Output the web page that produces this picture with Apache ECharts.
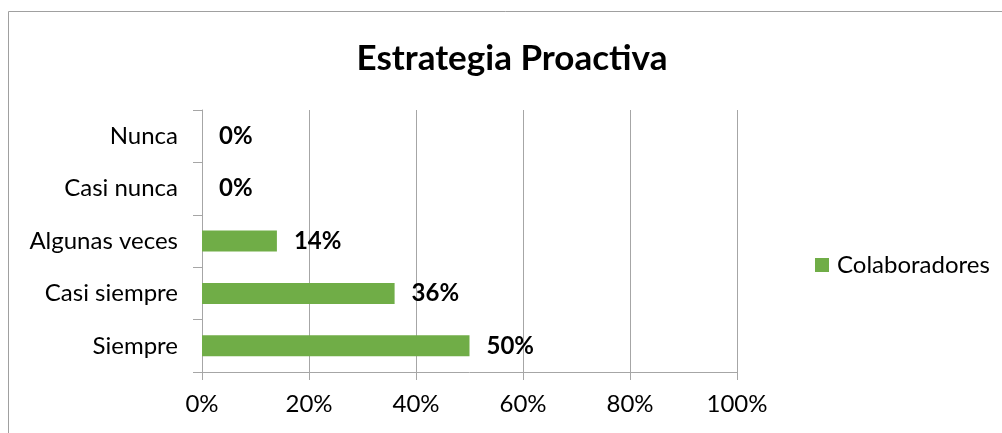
<!DOCTYPE html>
<html>
<head>
<meta charset="utf-8">
<script src="https://cdn.jsdelivr.net/npm/echarts@6/dist/echarts.min.js"></script>
<style>
  html, body { margin: 0; padding: 0; background: #fff; }
  #chart { width: 1002px; height: 433px; }
</style>
</head>
<body>
<div id="chart"></div>
<script>
// categories listed bottom to top (category axis starts at the bottom)
const categories = ['Siempre', 'Casi siempre', 'Algunas veces', 'Casi nunca', 'Nunca']
const colaboradores = [50, 36, 14, 0, 0]
const seriesName = 'Colaboradores'
const titleText = 'Estrategia Proactiva'

const chart = echarts.init(document.getElementById('chart'))
const font = 'Lato, "Noto Sans", sans-serif'
const gray = '#a6a6a6'

chart.setOption({
  animation: false,
  textStyle: { fontFamily: font },
  title: {
    text: titleText,
    left: 507,
    top: 36,
    textAlign: 'center',
    textStyle: { fontSize: 35, fontWeight: 'bold', color: '#000', fontFamily: font }
  },
  graphic: [{
    type: 'rect',
    shape: { x: 8.5, y: 11.5, width: 1100, height: 500 },
    style: { fill: 'none', stroke: '#a0a0a0', lineWidth: 1 },
    silent: true
  }],
  legend: {
    data: [seriesName],
    left: 810,
    top: 248,
    icon: 'rect',
    itemWidth: 14,
    itemHeight: 14,
    itemGap: 6,
    textStyle: { fontSize: 24, color: '#000', fontFamily: font, padding: [0, 0, 0, 3] }
  },
  grid: {
    left: 202,
    right: 265,
    top: 110,
    bottom: 61,
    containLabel: false
  },
  xAxis: {
    type: 'value',
    min: 0,
    max: 100,
    interval: 20,
    axisLabel: {
      formatter: '{value}%',
      fontSize: 24,
      color: '#000',
      margin: 20,
      fontFamily: font
    },
    axisLine: { show: true, lineStyle: { color: gray, width: 1 } },
    axisTick: { show: true, length: 8, lineStyle: { color: gray } },
    splitLine: { show: true, lineStyle: { color: gray, width: 1 } }
  },
  yAxis: {
    type: 'category',
    data: categories,
    axisLabel: {
      fontSize: 24,
      color: '#000',
      margin: 24,
      fontFamily: font
    },
    axisLine: { show: true, lineStyle: { color: gray, width: 1 } },
    axisTick: { show: true, length: 9, alignWithLabel: false, lineStyle: { color: gray } }
  },
  series: [{
    name: seriesName,
    type: 'bar',
    data: colaboradores,
    barWidth: '40%',
    itemStyle: { color: '#70ad47' },
    label: {
      show: true,
      position: 'right',
      distance: 17,
      formatter: '{c}%',
      fontSize: 24,
      fontWeight: 'bold',
      color: '#000',
      fontFamily: font
    }
  }]
})
</script>
</body>
</html>
